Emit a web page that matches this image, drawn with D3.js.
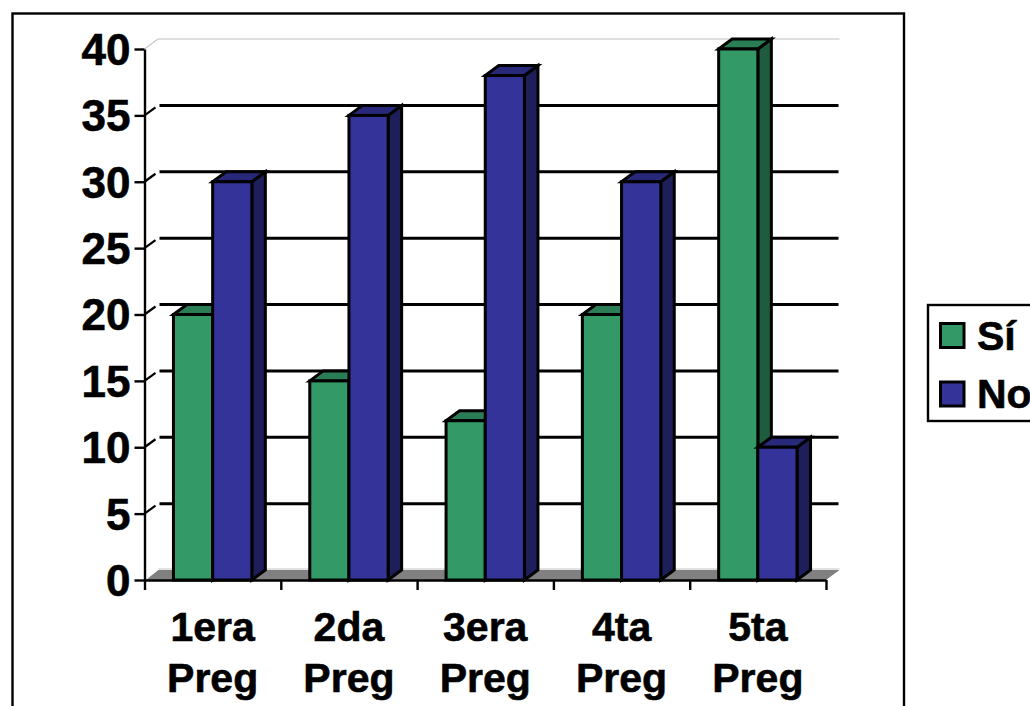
<!DOCTYPE html>
<html>
<head>
<meta charset="utf-8">
<style>
  html, body { margin: 0; background: #fff; }
  svg { display: block; }
  text { font-family: "Liberation Sans", Arial, sans-serif; font-weight: bold; fill: #000; stroke: #000; stroke-width: 0.6px; }
</style>
<script src="https://cdn.jsdelivr.net/npm/d3@7"></script>
</head>
<body>
<svg id="chart" width="1030" height="706"></svg>
<script>
// Categories, one line per row of the label.
const categories = ["1era Preg", "2da Preg", "3era Preg", "4ta Preg", "5ta Preg"];
const seriesNames = ["Sí", "No"];
const siValues = [20, 15, 12, 20, 40];
const noValues = [30, 35, 38, 30, 10];
const yTicks = [0, 5, 10, 15, 20, 25, 30, 35, 40];

const colors = {
  "Sí": { front: "#339966", top: "#2a7d54", side: "#1f5c3e" },
  "No": { front: "#333399", top: "#29297c", side: "#1e1e5b" },
};

// Plot box and the oblique offset of the fake 3D.
const LEFT = 144.5, RIGHT = 826, TOP = 49, BOTTOM = 580;
const DX = 13.5, DY = -10;
const STROKE = 3;
const FONT = 41;
const FONT_Y = 44;

const svg = d3.select("#chart");

const x = d3.scaleBand().domain(categories).range([LEFT, RIGHT]).paddingInner(0.425).paddingOuter(0.2125);
const inner = d3.scaleBand().domain(seriesNames).range([0, x.bandwidth()]);
const y = d3.scaleLinear().domain([0, 40]).range([BOTTOM, TOP]);

// Outer frame, runs off the bottom of the picture.
svg.append("rect")
  .attr("x", 12.5).attr("y", 13.5).attr("width", 891.5).attr("height", 720)
  .attr("fill", "#fff").attr("stroke", "#000").attr("stroke-width", 2.4);

// Floor.
svg.append("polygon")
  .attr("points", [[LEFT, BOTTOM], [LEFT + DX, BOTTOM + DY], [RIGHT + DX, BOTTOM + DY], [RIGHT, BOTTOM]].join(" "))
  .attr("fill", "#808080");
svg.append("line")
  .attr("x1", LEFT + DX).attr("x2", RIGHT + DX).attr("y1", BOTTOM + DY - 1).attr("y2", BOTTOM + DY - 1)
  .attr("stroke", "#d8d8d8").attr("stroke-width", 1.5);
svg.append("line")
  .attr("x1", LEFT + 1).attr("y1", BOTTOM - 1).attr("x2", LEFT + DX).attr("y2", BOTTOM + DY - 1)
  .attr("stroke", "#fff").attr("stroke-width", 2);

// Back wall: top edge is light, the others are black gridlines.
svg.append("line")
  .attr("x1", LEFT + DX).attr("x2", RIGHT + DX).attr("y1", y(40) + DY).attr("y2", y(40) + DY)
  .attr("stroke", "#c0c0c0").attr("stroke-width", 1.2);
svg.append("line")
  .attr("x1", LEFT).attr("y1", y(40)).attr("x2", LEFT + DX).attr("y2", y(40) + DY)
  .attr("stroke", "#c8c8c8").attr("stroke-width", 1.2);

const gridValues = yTicks.filter((d) => d > 0 && d < 40);
svg.append("g").selectAll("line.grid").data(gridValues).join("line")
  .attr("class", "grid")
  .attr("x1", LEFT + DX + 1.5).attr("x2", RIGHT + DX - 1)
  .attr("y1", (d) => y(d) + DY).attr("y2", (d) => y(d) + DY)
  .attr("stroke", "#000").attr("stroke-width", STROKE);
svg.append("g").selectAll("line.wall").data(gridValues).join("line")
  .attr("class", "wall")
  .attr("x1", LEFT).attr("x2", LEFT + DX - 2.5)
  .attr("y1", (d) => y(d)).attr("y2", (d) => y(d) + DY + 2)
  .attr("stroke", "#000").attr("stroke-width", 2.2);

// Bars, drawn left to right so a later bar covers the side of the previous one.
const bars = [];
categories.forEach((c, i) => {
  bars.push({ cat: c, name: "Sí", value: siValues[i] });
  bars.push({ cat: c, name: "No", value: noValues[i] });
});

const barGroup = svg.append("g").selectAll("g").data(bars).join("g")
  .attr("stroke", "#000").attr("stroke-width", STROKE).attr("stroke-linejoin", "miter");

function box(d) {
  const x0 = x(d.cat) + inner(d.name);
  return { x0, x1: x0 + inner.bandwidth(), yTop: y(d.value), yBot: y(0) };
}

barGroup.append("polygon")
  .attr("fill", (d) => colors[d.name].side)
  .attr("points", (d) => {
    const b = box(d);
    return [[b.x1, b.yTop], [b.x1 + DX, b.yTop + DY], [b.x1 + DX, b.yBot + DY], [b.x1, b.yBot]].join(" ");
  });
barGroup.append("polygon")
  .attr("fill", (d) => colors[d.name].top)
  .attr("points", (d) => {
    const b = box(d);
    return [[b.x0, b.yTop], [b.x0 + DX, b.yTop + DY], [b.x1 + DX, b.yTop + DY], [b.x1, b.yTop]].join(" ");
  });
barGroup.append("rect")
  .attr("fill", (d) => colors[d.name].front)
  .attr("x", (d) => box(d).x0)
  .attr("y", (d) => box(d).yTop)
  .attr("width", inner.bandwidth())
  .attr("height", (d) => box(d).yBot - box(d).yTop);

// Axes.
const yAxis = svg.append("g")
  .attr("transform", `translate(${LEFT},0)`)
  .call(d3.axisLeft(y).tickValues(yTicks).tickSize(10).tickPadding(4).tickSizeOuter(0));
yAxis.attr("font-family", null);
yAxis.selectAll("text").style("font-size", FONT_Y + "px").attr("dy", "0.35em");
yAxis.selectAll("line, path").attr("stroke", "#000").attr("stroke-width", 2.4);

// Category ticks sit between the groups, so they use a point scale over the edges.
const xEdges = d3.scalePoint().domain(d3.range(categories.length + 1)).range([LEFT, RIGHT]);
const xAxis = svg.append("g")
  .attr("transform", `translate(0,${BOTTOM})`)
  .call(d3.axisBottom(xEdges).tickSize(10).tickFormat("").tickSizeOuter(0));
xAxis.selectAll("line, path").attr("stroke", "#000").attr("stroke-width", 2.4);

const catLabels = svg.append("g").selectAll("text").data(categories).join("text")
  .attr("text-anchor", "middle")
  .style("font-size", FONT + "px")
  .attr("transform", (d) => `translate(${x(d) + x.bandwidth() / 2},0)`);
catLabels.append("tspan").attr("x", 0).attr("y", 640.5).text((d) => d.split(" ")[0]);
catLabels.append("tspan").attr("x", 0).attr("y", 692).text((d) => d.split(" ")[1]);

// Legend, its box runs off the right edge.
svg.append("rect")
  .attr("x", 928).attr("y", 305).attr("width", 130).attr("height", 116)
  .attr("fill", "#fff").attr("stroke", "#000").attr("stroke-width", 2.4);

const legendY = d3.scalePoint().domain(seriesNames).range([335.5, 394]);
const legend = svg.append("g").selectAll("g").data(seriesNames).join("g")
  .attr("transform", (d) => `translate(0,${legendY(d)})`);
legend.append("rect")
  .attr("x", 940.5).attr("y", -12).attr("width", 23.5).attr("height", 24)
  .attr("fill", (d) => colors[d].front)
  .attr("stroke", "#000").attr("stroke-width", 3);
legend.append("text")
  .attr("x", 977).attr("y", 14)
  .style("font-size", FONT + "px")
  .text((d) => d);
</script>
</body>
</html>
